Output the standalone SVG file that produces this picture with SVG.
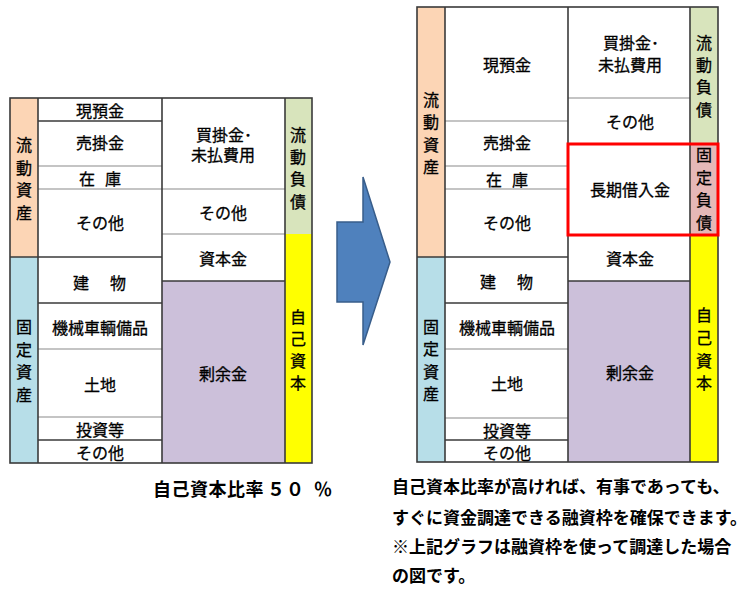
<svg xmlns="http://www.w3.org/2000/svg" width="750" height="593" viewBox="0 0 750 593">
<style>
text{font-family:"Noto Sans CJK JP","Noto Sans",sans-serif;fill:#000;}
.lb{font-size:16px;text-anchor:middle;stroke:#000;stroke-width:0.3;}
.note{font-size:17px;font-weight:bold;}
.ratio{font-size:18px;font-weight:bold;}
.dk{stroke:#3a3a3a;stroke-width:1.6;fill:none;}
.gy{stroke:#8a8a8a;stroke-width:1.2;fill:none;}
.org{fill:#FCD5B5;}
.blu{fill:#B7DEE8;}
.grn{fill:#D8E4BC;}
.yel{fill:#FFFF00;}
.pur{fill:#CCC0DA;}
.pnk{fill:#E6B8B7;}
.wht{fill:#FFFFFF;}
</style>
<rect width="750" height="593" fill="#FFFFFF"/>

<!-- LEFT CHART -->
<g id="left-chart">
  <g id="left-fills">
    <rect class="org" x="10" y="98" width="28" height="159"/>
    <rect class="blu" x="10" y="257" width="28" height="206"/>
    <rect class="wht" x="38" y="98" width="124" height="365"/>
    <rect class="wht" x="162" y="98" width="123" height="183"/>
    <rect class="pur" x="162" y="281" width="123" height="182"/>
    <rect class="grn" x="285" y="98" width="27" height="136"/>
    <rect class="yel" x="285" y="234" width="27" height="229"/>
  </g>
  <g id="left-lines">
    <line class="dk" x1="38" y1="121" x2="162" y2="121"/>
    <line class="gy" x1="38" y1="166" x2="162" y2="166"/>
    <line class="gy" x1="38" y1="189" x2="162" y2="189"/>
    <line class="dk" x1="10" y1="257" x2="162" y2="257"/>
    <line class="dk" x1="38" y1="303" x2="162" y2="303"/>
    <line class="gy" x1="38" y1="349" x2="162" y2="349"/>
    <line class="gy" x1="38" y1="417" x2="162" y2="417"/>
    <line class="dk" x1="38" y1="440" x2="162" y2="440"/>
    <line class="gy" x1="162" y1="189" x2="285" y2="189"/>
    <line class="gy" x1="162" y1="234" x2="285" y2="234"/>
    <line class="dk" x1="162" y1="281" x2="285" y2="281"/>
    <line class="dk" x1="38" y1="98" x2="38" y2="463"/>
    <line class="dk" x1="162" y1="98" x2="162" y2="463"/>
    <line class="dk" x1="285" y1="98" x2="285" y2="463"/>
    <rect class="dk" x="10" y="98" width="302" height="365"/>
  </g>
  <g id="L-ryudo-shisan"><text class="lb"><tspan x="24" y="151">流</tspan><tspan x="24" y="174">動</tspan><tspan x="24" y="196">資</tspan><tspan x="24" y="219">産</tspan></text></g>
  <g id="L-kotei-shisan"><text class="lb"><tspan x="24" y="333">固</tspan><tspan x="24" y="356">定</tspan><tspan x="24" y="378">資</tspan><tspan x="24" y="401">産</tspan></text></g>
  <g id="L-ryudo-fusai"><text class="lb"><tspan x="298" y="141">流</tspan><tspan x="298" y="163">動</tspan><tspan x="298" y="185">負</tspan><tspan x="298" y="208">債</tspan></text></g>
  <g id="L-jiko-shihon"><text class="lb"><tspan x="298" y="323">自</tspan><tspan x="298" y="345">己</tspan><tspan x="298" y="367">資</tspan><tspan x="298" y="389">本</tspan></text></g>
  <g id="L-genyokin"><text class="lb" x="100" y="117">現預金</text></g>
  <g id="L-urikake"><text class="lb" x="100" y="149">売掛金</text></g>
  <g id="L-zaiko"><text class="lb" x="87 113" y="185">在庫</text></g>
  <g id="L-sonota1"><text class="lb" x="100" y="229">その他</text></g>
  <g id="L-tatemono"><text class="lb" x="81 118" y="289">建物</text></g>
  <g id="L-kikai"><text class="lb" x="100" y="334">機械車輌備品</text></g>
  <g id="L-tochi"><text class="lb" x="100" y="391">土地</text></g>
  <g id="L-toshi"><text class="lb" x="100" y="436">投資等</text></g>
  <g id="L-sonota2"><text class="lb" x="100" y="459">その他</text></g>
  <g id="L-kaikake"><text class="lb"><tspan x="224" y="141">買掛金･</tspan><tspan x="223" y="161">未払費用</tspan></text></g>
  <g id="L-sonota3"><text class="lb" x="223" y="219">その他</text></g>
  <g id="L-shihonkin"><text class="lb" x="223" y="265">資本金</text></g>
  <g id="L-joyokin"><text class="lb" x="223" y="380">剰余金</text></g>
</g>

<!-- ARROW -->
<g id="connectors">
  <polygon points="337,222 363,222 363,177 390,262 363,345 363,302 337,302" fill="#4F81BD" stroke="#385D8A" stroke-width="1.5" stroke-linejoin="miter"/>
</g>

<!-- RIGHT CHART -->
<g id="right-chart">
  <g id="right-fills">
    <rect class="org" x="417" y="7" width="28" height="250"/>
    <rect class="blu" x="417" y="257" width="28" height="205"/>
    <rect class="wht" x="445" y="7" width="123" height="455"/>
    <rect class="wht" x="568" y="7" width="122" height="274"/>
    <rect class="pur" x="568" y="281" width="122" height="181"/>
    <rect class="grn" x="690" y="7" width="28" height="136"/>
    <rect class="pnk" x="690" y="143" width="28" height="92"/>
    <rect class="yel" x="690" y="235" width="28" height="227"/>
  </g>
  <g id="right-lines">
    <line class="gy" x1="445" y1="121" x2="568" y2="121"/>
    <line class="gy" x1="445" y1="166" x2="568" y2="166"/>
    <line class="gy" x1="445" y1="189" x2="568" y2="189"/>
    <line class="dk" x1="417" y1="257" x2="568" y2="257"/>
    <line class="dk" x1="445" y1="303" x2="568" y2="303"/>
    <line class="gy" x1="445" y1="349" x2="568" y2="349"/>
    <line class="gy" x1="445" y1="418" x2="568" y2="418"/>
    <line class="dk" x1="445" y1="440" x2="568" y2="440"/>
    <line class="gy" x1="568" y1="98" x2="690" y2="98"/>
    <line class="dk" x1="568" y1="281" x2="690" y2="281"/>
    <line class="dk" x1="445" y1="7" x2="445" y2="462"/>
    <line class="dk" x1="568" y1="7" x2="568" y2="462"/>
    <line class="dk" x1="690" y1="7" x2="690" y2="462"/>
    <rect class="dk" x="417" y="7" width="301" height="455"/>
  </g>
  <g id="R-highlight">
    <rect x="568" y="144" width="150" height="91" fill="none" stroke="#FF0000" stroke-width="3"/>
  </g>
  <g id="R-ryudo-shisan"><text class="lb"><tspan x="431" y="106">流</tspan><tspan x="431" y="128">動</tspan><tspan x="431" y="151">資</tspan><tspan x="431" y="173">産</tspan></text></g>
  <g id="R-kotei-shisan"><text class="lb"><tspan x="431" y="333">固</tspan><tspan x="431" y="355">定</tspan><tspan x="431" y="378">資</tspan><tspan x="431" y="400">産</tspan></text></g>
  <g id="R-ryudo-fusai"><text class="lb"><tspan x="704" y="49">流</tspan><tspan x="704" y="71">動</tspan><tspan x="704" y="93">負</tspan><tspan x="704" y="116">債</tspan></text></g>
  <g id="R-kotei-fusai"><text class="lb"><tspan x="704" y="161">固</tspan><tspan x="704" y="184">定</tspan><tspan x="704" y="206">負</tspan><tspan x="704" y="229">債</tspan></text></g>
  <g id="R-jiko-shihon"><text class="lb"><tspan x="704" y="321">自</tspan><tspan x="704" y="344">己</tspan><tspan x="704" y="367">資</tspan><tspan x="704" y="389">本</tspan></text></g>
  <g id="R-genyokin"><text class="lb" x="507" y="71">現預金</text></g>
  <g id="R-urikake"><text class="lb" x="507" y="149">売掛金</text></g>
  <g id="R-zaiko"><text class="lb" x="494 520" y="186">在庫</text></g>
  <g id="R-sonota1"><text class="lb" x="507" y="229">その他</text></g>
  <g id="R-tatemono"><text class="lb" x="488 525" y="288">建物</text></g>
  <g id="R-kikai"><text class="lb" x="507" y="334">機械車輌備品</text></g>
  <g id="R-tochi"><text class="lb" x="507" y="390">土地</text></g>
  <g id="R-toshi"><text class="lb" x="507" y="437">投資等</text></g>
  <g id="R-sonota2"><text class="lb" x="507" y="459">その他</text></g>
  <g id="R-kaikake"><text class="lb"><tspan x="631" y="49">買掛金･</tspan><tspan x="630" y="71">未払費用</tspan></text></g>
  <g id="R-sonota3"><text class="lb" x="630" y="128">その他</text></g>
  <g id="R-choki"><text class="lb" x="630" y="196">長期借入金</text></g>
  <g id="R-shihonkin"><text class="lb" x="630" y="265">資本金</text></g>
  <g id="R-joyokin"><text class="lb" x="630" y="379">剰余金</text></g>
</g>

<!-- CAPTIONS -->
<g id="caption-left">
  <text class="ratio" x="153 171.5 190 208.5 227 245.5 267 286 314" y="496">自己資本比率５０％</text>
</g>
<g id="caption-right">
  <text class="note" x="392" y="493">自己資本比率が高ければ、有事であっても、</text>
  <text class="note" x="392" y="524">すぐに資金調達できる融資枠を確保できます。</text>
  <text class="note" x="392" y="553">※上記グラフは融資枠を使って調達した場合</text>
  <text class="note" x="392" y="582">の図です。</text>
</g>
</svg>
